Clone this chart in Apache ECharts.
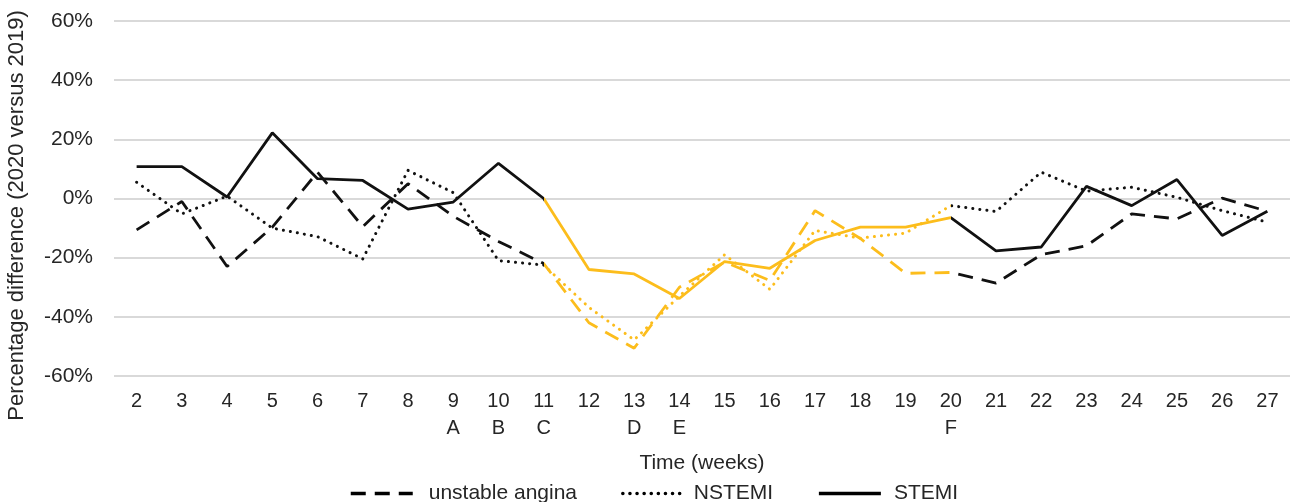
<!DOCTYPE html>
<html>
<head>
<meta charset="utf-8">
<script src="https://cdn.jsdelivr.net/npm/echarts@6/dist/echarts.min.js"></script>
<style>html,body{margin:0;padding:0;background:#fff}#c{width:1297px;height:502px}</style>
</head>
<body>
<div id="c"></div>
<script>
var weeks = ['2','3','4','5','6','7','8','9','10','11','12','13','14','15','16','17','18','19','20','21','22','23','24','25','26','27'];
var weekMarks = {'9':'A','10':'B','11':'C','13':'D','14':'E','20':'F'};
var unstableAngina = [-10.6,-1,-23,-9.7,8.9,-9.5,5,-6,-14.5,-22,-42,-50.6,-30,-21.5,-27.7,-4.1,-13.5,-25.3,-25,-28.6,-19,-16,-5.2,-6.9,0.1,-4.3];
var nstemi = [5.5,-5.2,0.8,-10,-12.9,-20.4,9.5,2,-21,-22.5,-36.8,-47.8,-33,-19,-30.7,-10.8,-13.4,-11.7,-2.4,-4.4,8.9,2.5,3.8,0.4,-4.1,-8];
var stemi = [10.8,10.8,0.5,22.2,6.7,6.1,-3.6,-1.2,11.9,0,-24,-25.5,-33.8,-21.3,-23.6,-14.2,-9.7,-9.7,-6.5,-17.7,-16.4,4.1,-2.4,6.4,-12.5,-4.3];
var yTicks = {min:-60, max:60, interval:20};
var highlightStart = 9, highlightEnd = 18; // indices of weeks 11..20

var chart = echarts.init(document.getElementById('c'));
var font = 'Liberation Sans, Arial, sans-serif';
var txt = '#262626';
chart.setOption({
  animation:false,
  color:['#000','#000','#000'],
  grid:{left:114, right:7, top:21, bottom:126, outerBoundsMode:'none', containLabel:false},
  xAxis:{
    type:'category', data:weeks, boundaryGap:true,
    axisLine:{show:false}, axisTick:{show:false},
    axisLabel:{margin:12, fontFamily:font, fontSize:20, color:txt, lineHeight:27,
      formatter:function(v){return weekMarks[v] ? v+'\n'+weekMarks[v] : v;}},
    name:'Time (weeks)', nameLocation:'middle', nameGap:77,
    nameTextStyle:{fontFamily:font, fontSize:21, color:txt}
  },
  yAxis:{
    type:'value', min:yTicks.min, max:yTicks.max, interval:yTicks.interval,
    axisLabel:{margin:21, fontFamily:font, fontSize:21, color:txt, formatter:'{value}%'},
    splitLine:{lineStyle:{color:'#d9d9d9', width:2}},
    axisLine:{show:false}, axisTick:{show:false},
    name:'Percentage difference (2020 versus 2019)', nameLocation:'middle', nameGap:86,
    nameTextStyle:{fontFamily:font, fontSize:22, color:txt, padding:[0,34,0,0]}
  },
  visualMap:{
    show:false, type:'piecewise', dimension:0, seriesIndex:[0,1,2],
    pieces:[{gte:highlightStart, lte:highlightEnd, color:'#FCBD1C'}],
    outOfRange:{color:'#111'}
  },
  legend:{
    top:478, left:344, itemWidth:62, itemHeight:22, itemGap:44,
    itemStyle:{opacity:0},
    lineStyle:{width:3.5, color:'#000'},
    textStyle:{fontFamily:font, fontSize:21, color:txt},
    data:[
      {name:'unstable angina', textStyle:{padding:[0,0,0,11]}},
      {name:'NSTEMI', textStyle:{padding:[0,0,0,4]}},
      {name:'STEMI', textStyle:{padding:[0,0,0,8]}}
    ]
  },
  series:[
    {name:'unstable angina', type:'line', data:unstableAngina, symbol:'none',
      lineStyle:{width:2.8, type:[15,9]}},
    {name:'NSTEMI', type:'line', data:nstemi, symbol:'none',
      lineStyle:{width:3, type:[0.1,7], cap:'round'}},
    {name:'STEMI', type:'line', data:stemi, symbol:'none',
      lineStyle:{width:2.8}}
  ]
});
</script>
</body>
</html>
